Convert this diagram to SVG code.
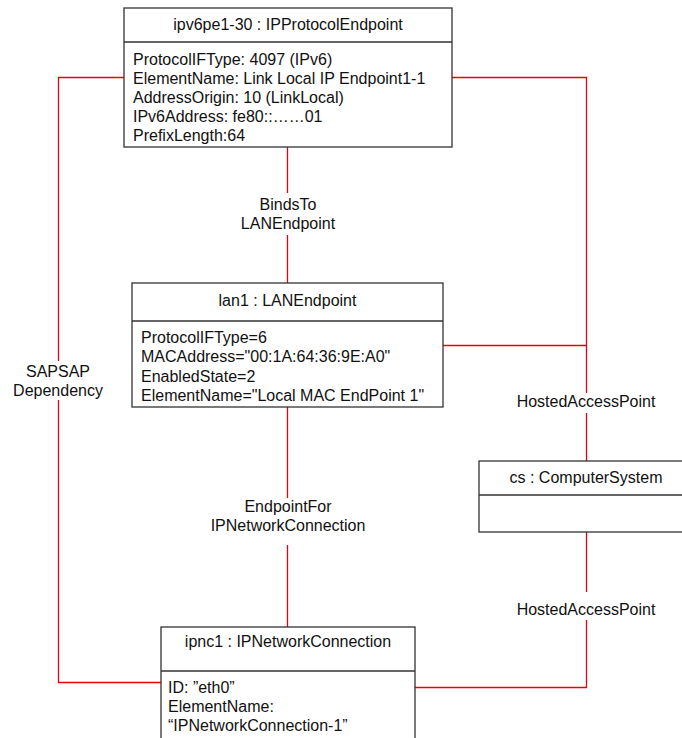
<svg xmlns="http://www.w3.org/2000/svg" width="682" height="738" viewBox="0 0 682 738">
<style>
text{font-family:"Liberation Sans",Arial,sans-serif;font-size:16px;fill:#111}
.c{text-anchor:middle}
.box{fill:#fff;stroke:#333;stroke-width:1.3}
.sep{stroke:#333;stroke-width:1.3;fill:none}
.link{stroke:#e8000a;stroke-width:1.3;fill:none}
</style>
<rect width="682" height="738" fill="#fff"/>
<g id="connectors">
<polyline class="link" points="124,77.5 58.5,77.5 58.5,361"/>
<polyline class="link" points="58.5,400 58.5,682.5 161,682.5"/>
<polyline class="link" points="452,77.5 586.5,77.5 586.5,393"/>
<line class="link" x1="586.5" y1="413" x2="586.5" y2="461"/>
<line class="link" x1="443" y1="345.5" x2="586.5" y2="345.5"/>
<line class="link" x1="287.5" y1="147" x2="287.5" y2="193"/>
<line class="link" x1="287.5" y1="235" x2="287.5" y2="283"/>
<line class="link" x1="287.5" y1="407" x2="287.5" y2="498"/>
<line class="link" x1="287.5" y1="545" x2="287.5" y2="627"/>
<line class="link" x1="586.5" y1="532" x2="586.5" y2="592"/>
<polyline class="link" points="586.5,620 586.5,687.5 415,687.5"/>
<text class="c" x="288" y="210">BindsTo</text>
<text class="c" x="288" y="229">LANEndpoint</text>
<text class="c" x="288" y="512">EndpointFor</text>
<text class="c" x="288" y="531">IPNetworkConnection</text>
<text class="c" x="586" y="407">HostedAccessPoint</text>
<text class="c" x="586" y="615">HostedAccessPoint</text>
<text class="c" x="58" y="377">SAPSAP</text>
<text class="c" x="58" y="396">Dependency</text>
</g>
<g id="ipv6pe1">
<rect class="box" x="124" y="8" width="328" height="139"/>
<line class="sep" x1="124" y1="42" x2="452" y2="42"/>
<text class="c" x="288" y="30">ipv6pe1-30 : IPProtocolEndpoint</text>
<text x="133" y="65">ProtocolIFType: 4097 (IPv6)</text>
<text x="133" y="84">ElementName: Link Local IP Endpoint1-1</text>
<text x="133" y="103">AddressOrigin: 10 (LinkLocal)</text>
<text x="133" y="122">IPv6Address: fe80::……01</text>
<text x="133" y="141">PrefixLength:64</text>
</g>
<g id="lan1">
<rect class="box" x="132" y="283" width="311" height="124"/>
<line class="sep" x1="132" y1="321" x2="443" y2="321"/>
<text class="c" x="287.5" y="306">lan1 : LANEndpoint</text>
<text x="141" y="343">ProtocolIFType=6</text>
<text x="141" y="362">MACAddress="00:1A:64:36:9E:A0"</text>
<text x="141" y="382">EnabledState=2</text>
<text x="141" y="401">ElementName="Local MAC EndPoint 1"</text>
</g>
<g id="cs">
<rect class="box" x="479" y="461" width="214" height="71"/>
<line class="sep" x1="479" y1="495" x2="693" y2="495"/>
<text class="c" x="586" y="483">cs : ComputerSystem</text>
</g>
<g id="ipnc1">
<rect class="box" x="161" y="627" width="254" height="130"/>
<line class="sep" x1="161" y1="671" x2="415" y2="671"/>
<text class="c" x="288" y="647">ipnc1 : IPNetworkConnection</text>
<text x="168" y="693">ID: ”eth0”</text>
<text x="168" y="712">ElementName:</text>
<text x="168" y="731">“IPNetworkConnection-1”</text>
</g>
</svg>
